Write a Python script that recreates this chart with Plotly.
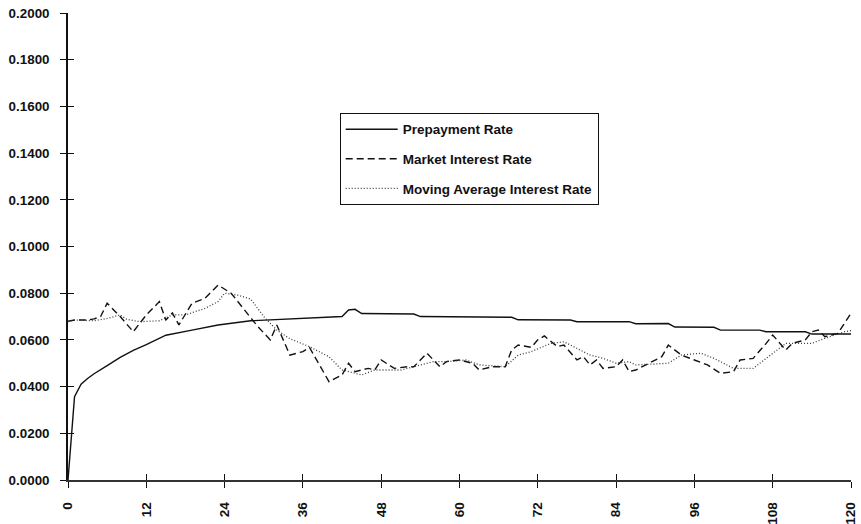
import plotly.graph_objects as go

# Prepayment rate (solid)
prepay_months = [0, 1, 2, 3, 4, 5, 6, 8, 10, 12, 15, 19, 23, 28, 33, 34, 42, 43, 44, 45,
                 53, 54, 58, 68, 69, 77, 78, 86, 87, 92, 93, 99, 100, 106, 107, 113, 114, 120]
prepay_rate = [0.0000, 0.0357, 0.0410, 0.0435, 0.0455, 0.0471, 0.0490, 0.0525, 0.0555, 0.0580,
               0.0620, 0.0642, 0.0664, 0.0682, 0.0688, 0.0692, 0.0700, 0.0728, 0.0731, 0.0713,
               0.0711, 0.0700, 0.0700, 0.0697, 0.0686, 0.0685, 0.0678, 0.0678, 0.0669, 0.0670,
               0.0655, 0.0654, 0.0642, 0.0642, 0.0635, 0.0635, 0.0625, 0.0625]

# Market interest rate (dashed)
market_months = [0, 1, 3, 4, 5, 6, 8, 10, 12, 14, 15, 16, 17, 19, 21, 23, 25, 27, 29, 31,
                 32, 34, 36, 37, 40, 42, 43, 44, 46, 47, 48, 50, 52, 53, 55, 57, 58, 60, 62, 63,
                 65, 67, 68, 69, 71, 72, 73, 75, 76, 78, 79, 80, 81, 82, 84, 85, 86, 87, 91, 92,
                 94, 96, 98, 100, 102, 103, 105, 107, 108, 110, 111, 113, 114, 115, 116, 118, 120]
market_rate = [0.0680, 0.0685, 0.0685, 0.0690, 0.0700, 0.0757, 0.0700, 0.0635, 0.0707, 0.0764,
               0.0685, 0.0715, 0.0664, 0.0757, 0.0778, 0.0835, 0.0800, 0.0728, 0.0660, 0.0600,
               0.0664, 0.0535, 0.0550, 0.0568, 0.0421, 0.0450, 0.0500, 0.0464, 0.0478, 0.0471,
               0.0514, 0.0478, 0.0485, 0.0485, 0.0543, 0.0485, 0.0507, 0.0514, 0.0500, 0.0471,
               0.0485, 0.0485, 0.0557, 0.0578, 0.0568, 0.0600, 0.0617, 0.0571, 0.0578, 0.0514,
               0.0528, 0.0493, 0.0514, 0.0478, 0.0485, 0.0514, 0.0464, 0.0471, 0.0528, 0.0578,
               0.0535, 0.0514, 0.0493, 0.0457, 0.0464, 0.0514, 0.0521, 0.0585, 0.0621, 0.0557,
               0.0585, 0.0600, 0.0635, 0.0642, 0.0614, 0.0628, 0.0714]

# Moving average interest rate (dotted)
moving_months = [0, 1, 4, 6, 8, 9, 11, 14, 16, 18, 21, 23, 24, 26, 28, 29, 30, 32, 34, 37,
                 40, 42, 45, 47, 51, 53, 56, 58, 61, 63, 67, 69, 71, 74, 76, 77, 80, 82, 84, 86,
                 87, 90, 92, 94, 97, 99, 102, 105, 108, 110, 114, 116, 119, 120]
moving_rate = [0.0678, 0.0685, 0.0682, 0.0692, 0.0707, 0.0688, 0.0678, 0.0682, 0.0707, 0.0707,
               0.0735, 0.0764, 0.0800, 0.0792, 0.0775, 0.0740, 0.0700, 0.0642, 0.0605, 0.0571,
               0.0528, 0.0471, 0.0450, 0.0471, 0.0471, 0.0485, 0.0507, 0.0507, 0.0514, 0.0493,
               0.0485, 0.0535, 0.0550, 0.0585, 0.0592, 0.0578, 0.0535, 0.0521, 0.0500, 0.0507,
               0.0493, 0.0497, 0.0500, 0.0535, 0.0543, 0.0521, 0.0478, 0.0478, 0.0543, 0.0585,
               0.0585, 0.0607, 0.0635, 0.0640]

x_ticks = [0, 12, 24, 36, 48, 60, 72, 84, 96, 108, 120]
y_ticks = [0.0, 0.02, 0.04, 0.06, 0.08, 0.10, 0.12, 0.14, 0.16, 0.18, 0.20]

FONT = "Liberation Sans, Arial, sans-serif"

fig = go.Figure()
fig.add_trace(go.Scatter(x=prepay_months, y=prepay_rate, mode="lines",
                         name="<b>Prepayment Rate</b>", legendgroup="a",
                         line=dict(color="#111111", width=1.4, dash="solid")))
fig.add_trace(go.Scatter(x=market_months, y=market_rate, mode="lines",
                         name="<b>Market Interest Rate</b>", legendgroup="b",
                         line=dict(color="#111111", width=1.4, dash="7px,4px")))
fig.add_trace(go.Scatter(x=moving_months, y=moving_rate, mode="lines",
                         name="<b>Moving Average Interest Rate</b>", legendgroup="c",
                         line=dict(color="#3a3a3a", width=1.3, dash="1px,2px")))
# helper trace so the inner-tick axes are drawn
fig.add_trace(go.Scatter(x=[0, 120], y=[0, 0.2], xaxis="x2", yaxis="y2", mode="lines",
                         line=dict(width=0), showlegend=False, hoverinfo="skip"))

axis_common = dict(showgrid=False, zeroline=False, ticklen=6, tickwidth=1.2,
                   tickcolor="#111111", automargin=False)

fig.update_layout(
    width=861, height=524,
    margin=dict(l=68, r=10, t=13, b=44, autoexpand=False),
    paper_bgcolor="white", plot_bgcolor="white",
    font=dict(family=FONT, size=13, color="#111111"),
    showlegend=True,
    legend=dict(x=0.347, y=0.786, xanchor="left", yanchor="top",
                bordercolor="#111111", borderwidth=1, bgcolor="white",
                traceorder="grouped", tracegroupgap=9, itemwidth=52,
                font=dict(family=FONT, size=13.5, color="#111111")),
    xaxis=dict(range=[0, 120], tickvals=x_ticks, ticktext=[f"<b>{v}</b>" for v in x_ticks],
               tickangle=-90, ticks="outside", showline=True, linecolor="#333333",
               linewidth=1.5, tickfont=dict(size=13.5), ticklabelstandoff=9,
               **axis_common),
    yaxis=dict(range=[0, 0.2], tickvals=y_ticks,
               ticktext=[f"<b>{v:.4f}</b>" for v in y_ticks],
               ticks="outside", showline=True, linecolor="#111111", linewidth=1.5,
               tickfont=dict(size=13.4), ticklabelstandoff=8, **axis_common),
    xaxis2=dict(range=[0, 120], tickvals=x_ticks, ticks="inside", showticklabels=False,
                overlaying="x", showline=False, **axis_common),
    yaxis2=dict(range=[0, 0.2], tickvals=y_ticks, ticks="inside", showticklabels=False,
                overlaying="y", showline=False, **axis_common),
)

fig.write_html("out.html")
